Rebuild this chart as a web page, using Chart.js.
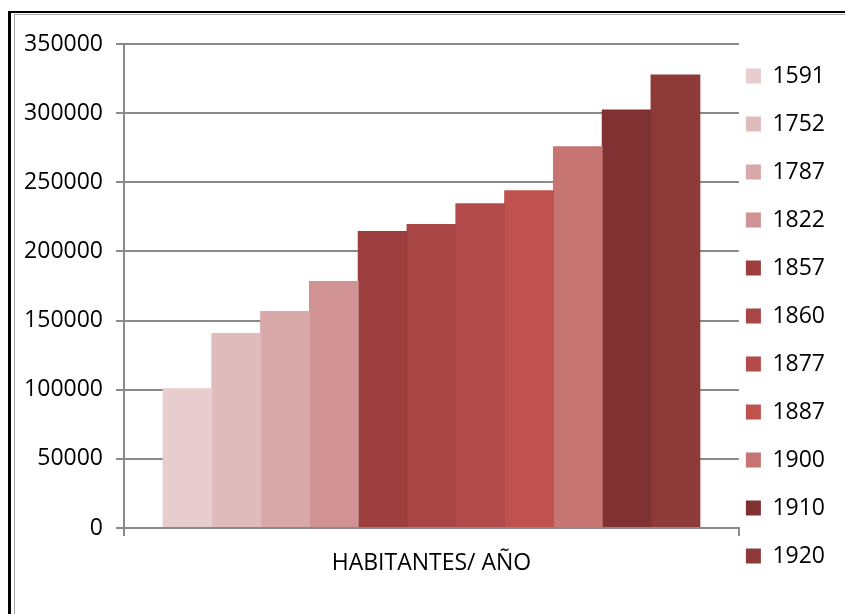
<!DOCTYPE html>
<html>
<head>
<meta charset="utf-8">
<script src="https://cdn.jsdelivr.net/npm/chart.js@4.4.1/dist/chart.umd.min.js"></script>
<style>
  html, body { margin: 0; padding: 0; background: #fff; }
  #wrap { position: relative; width: 845px; height: 614px; overflow: hidden; }
  .frame { position: absolute; left: 8px; top: 11px; width: 900px; height: 700px;
           border-left: 3px solid #000; border-top: 2px solid #000; }
  .frame2 { position: absolute; left: 14px; top: 14px; width: 900px; height: 700px;
            border-left: 1px solid #a6a6a6; border-top: 1px solid #a6a6a6; }
  canvas { position: absolute; left: 0; top: 0; }
</style>
</head>
<body>
<div id="wrap">
  <div class="frame"></div>
  <div class="frame2"></div>
  <canvas id="chart" width="845" height="614"></canvas>
</div>
<script>
// categories / series
const categories = ['HABITANTES/ AÑO'];
const years = ['1591', '1752', '1787', '1822', '1857', '1860', '1877', '1887', '1900', '1910', '1920'];
const habitantes = [101000, 141000, 157000, 178600, 214700, 219800, 234900, 244300, 276000, 302700, 328000];
const colors = ['#e8cdce', '#e0bbbb', '#d9a9aa', '#d09292', '#9c3e3e', '#a84545',
                '#b34b4a', '#bf514f', '#c77572', '#803132', '#8e3a38'];
const yTicks = [0, 50000, 100000, 150000, 200000, 250000, 300000, 350000];

const font = { family: '"Open Sans", sans-serif', size: 23 };
const axisGray = '#8a8a8a';

// moves the legend a little so it sits like the original
const legendShift = {
    id: 'legendShift',
    afterLayout(chart) {
        const lg = chart.legend;
        lg.left -= 18; lg.right -= 18;
        lg.top += 9; lg.bottom += 9;
    }
};

const datasets = years.map((year, i) => ({
    label: year,
    data: [habitantes[i]],
    backgroundColor: colors[i],
    borderWidth: 0,
    barPercentage: 1.02,   // slight overlap so no seams between bars
    categoryPercentage: 0.873
}));

new Chart(document.getElementById('chart').getContext('2d'), {
    type: 'bar',
    data: { labels: categories, datasets: datasets },
    plugins: [legendShift],
    options: {
        responsive: false,
        animation: false,
        layout: { padding: { left: 0, right: -8, top: 0, bottom: 0 } },
        plugins: {
            legend: {
                position: 'right',
                align: 'center',
                labels: { boxWidth: 15, boxHeight: 15, padding: 25, color: '#000', font: font }
            },
            tooltip: { enabled: false }
        },
        scales: {
            x: {
                grid: { drawOnChartArea: false, color: axisGray, lineWidth: 2, tickLength: 8 },
                border: { color: axisGray, width: 2 },
                ticks: { color: '#000', font: font, padding: 14 },
                afterFit: s => { s.height = 86; }
            },
            y: {
                min: 0,
                max: 350000,
                afterBuildTicks: s => { s.ticks = yTicks.map(v => ({ value: v })); },
                ticks: { color: '#000', font: font, padding: 13, callback: v => String(v) },
                grid: { color: axisGray, lineWidth: 2, tickLength: 8 },
                border: { color: axisGray, width: 2 },
                afterFit: s => { s.width = 124; s.paddingTop = 44; }
            }
        }
    }
});
</script>
</body>
</html>
